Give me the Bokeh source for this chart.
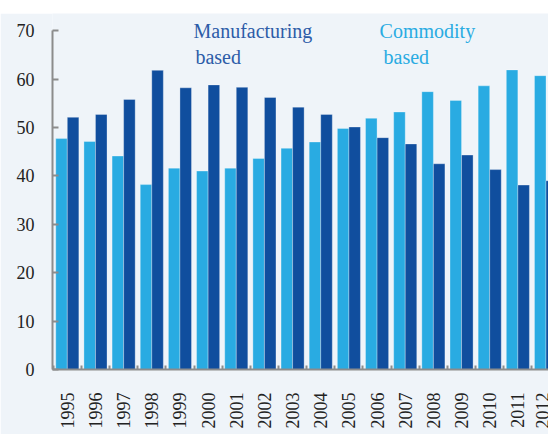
from math import pi
from bokeh.plotting import figure
from bokeh.models import FixedTicker, Label, Spacer, ColumnDataSource
from bokeh.layouts import column
from bokeh.transform import dodge
from bokeh.embed import file_html
from bokeh.resources import INLINE

years = [str(y) for y in range(1995, 2013)]
commodity = [47.7, 47.1, 44.1, 38.2, 41.6, 41.0, 41.6, 43.6, 45.7, 47.0,
             49.8, 51.9, 53.2, 57.4, 55.6, 58.6, 61.9, 60.7]
manufacturing = [52.1, 52.7, 55.8, 61.8, 58.2, 58.8, 58.3, 56.2, 54.2, 52.7,
                 50.1, 47.9, 46.6, 42.5, 44.3, 41.3, 38.1, 39.0]
y_ticks = [0, 10, 20, 30, 40, 50, 60, 70]

BG = "#eff4f9"
LIGHT = "#29abe2"
DARK = "#104e9e"
AXIS = "#8c8c8c"
FONT = "Liberation Serif"

idx = list(range(len(years)))
src = ColumnDataSource(dict(x=idx, commodity=commodity, manufacturing=manufacturing))

p = figure(width=548, height=421, x_range=(-0.526, 17.088), y_range=(0, 73.55),
           output_backend="svg", toolbar_location=None,
           min_border_left=52, min_border_right=0, min_border_top=0, min_border_bottom=65,
           background_fill_color=BG, border_fill_color=BG, outline_line_color=None)

bw = 0.41
p.vbar(x=dodge("x", -bw / 2, range=p.x_range), top="commodity", width=bw, source=src,
       fill_color=LIGHT, line_color="#ffffff", line_alpha=0.3, line_width=1)
p.vbar(x=dodge("x", bw / 2, range=p.x_range), top="manufacturing", width=bw, source=src,
       fill_color=DARK, line_color="#ffffff", line_alpha=0.3, line_width=1)

p.grid.visible = False

xa = p.xaxis[0]
xa.ticker = FixedTicker(ticks=idx, minor_ticks=[i + 0.5 for i in range(-1, len(years))])
xa.major_label_overrides = {i: y for i, y in zip(idx, years)}
xa.major_label_orientation = pi / 2
xa.major_tick_in = 0
xa.major_tick_out = 0
xa.minor_tick_in = 4
xa.minor_tick_out = 0
xa.minor_tick_line_color = AXIS
xa.minor_tick_line_width = 2
xa.axis_line_color = AXIS
xa.axis_line_width = 2
xa.major_label_standoff = 23
xa.major_label_text_font = FONT
xa.major_label_text_font_size = "18px"
xa.major_label_text_color = "#222222"

ya = p.yaxis[0]
ya.ticker = FixedTicker(ticks=y_ticks, minor_ticks=[])
ya.bounds = (0, 70)
ya.major_tick_in = 6
ya.major_tick_out = 0
ya.minor_tick_in = 0
ya.minor_tick_out = 0
ya.major_tick_line_color = AXIS
ya.major_tick_line_width = 2
ya.axis_line_color = AXIS
ya.axis_line_width = 2
ya.major_label_standoff = 18
ya.major_label_text_font = FONT
ya.major_label_text_font_size = "18px"
ya.major_label_text_color = "#222222"

for tx, lx, ly, col in [("Manufacturing", 4.48, 69.85, "#2d5ca8"),
                        ("based", 4.55, 64.65, "#2d5ca8"),
                        ("Commodity", 11.09, 69.85, LIGHT),
                        ("based", 11.23, 64.65, LIGHT)]:
    p.add_layout(Label(x=lx, y=ly, text=tx, text_font=FONT, text_font_size="20px",
                       text_color=col, text_baseline="alphabetic"))

layout = column(Spacer(width=548, height=13), p)
open("out.html", "w").write(file_html(layout, INLINE))
